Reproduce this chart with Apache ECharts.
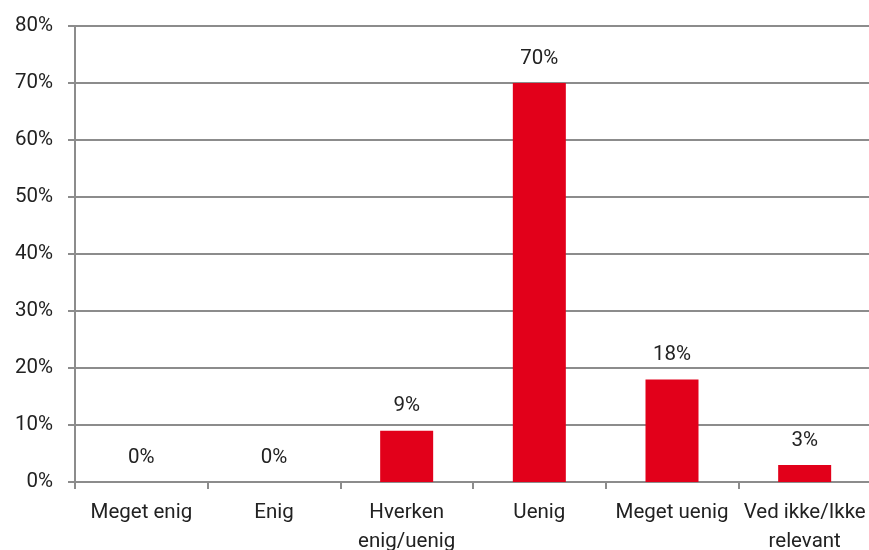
<!DOCTYPE html>
<html>
<head>
<meta charset="utf-8">
<script src="https://cdn.jsdelivr.net/npm/echarts@6/dist/echarts.min.js"></script>
<style>
  html, body { margin: 0; padding: 0; background: #fff; }
  #chart { width: 869px; height: 550px; }
</style>
</head>
<body>
<div id="chart"></div>
<script>
// Données
const categories = ['Meget enig', 'Enig', 'Hverken\nenig/uenig', 'Uenig', 'Meget uenig', 'Ved ikke/Ikke\nrelevant'];
const values = [0, 0, 9, 70, 18, 3];
const yTicks = [0, 10, 20, 30, 40, 50, 60, 70, 80];

const chart = echarts.init(document.getElementById('chart'), null, { renderer: 'canvas' });

const option = {
    animation: false,
    textStyle: { fontFamily: 'Roboto', color: '#222' },
    grid: { left: 75, right: -2, top: 26, bottom: 68, outerBoundsMode: 'none', containLabel: false },
    xAxis: {
        type: 'category',
        data: categories,
        axisLine: { lineStyle: { color: '#8c8c8c', width: 2 } },
        axisTick: { show: true, length: 7, lineStyle: { color: '#8c8c8c', width: 2 } },
        axisLabel: { fontSize: 20.5, color: '#222', margin: 16, lineHeight: 29, interval: 0 }
    },
    yAxis: {
        type: 'value',
        min: yTicks[0],
        max: yTicks[yTicks.length - 1],
        interval: 10,
        axisLine: { show: true, lineStyle: { color: '#8c8c8c', width: 2 } },
        axisTick: { show: true, length: 7, lineStyle: { color: '#8c8c8c', width: 2 } },
        splitLine: { lineStyle: { color: '#8c8c8c', width: 2 } },
        axisLabel: { fontSize: 20.5, color: '#222', margin: 22, formatter: '{value}%' }
    },
    series: [
        {
            type: 'bar',
            data: values,
            barWidth: 53,
            itemStyle: { color: '#E2001A' },
            label: {
                show: true,
                position: 'top',
                distance: 14,
                fontSize: 20.5,
                color: '#222',
                formatter: '{c}%'
            }
        }
    ]
};

chart.setOption(option);
window.addEventListener('resize', chart.resize);
</script>
</body>
</html>
